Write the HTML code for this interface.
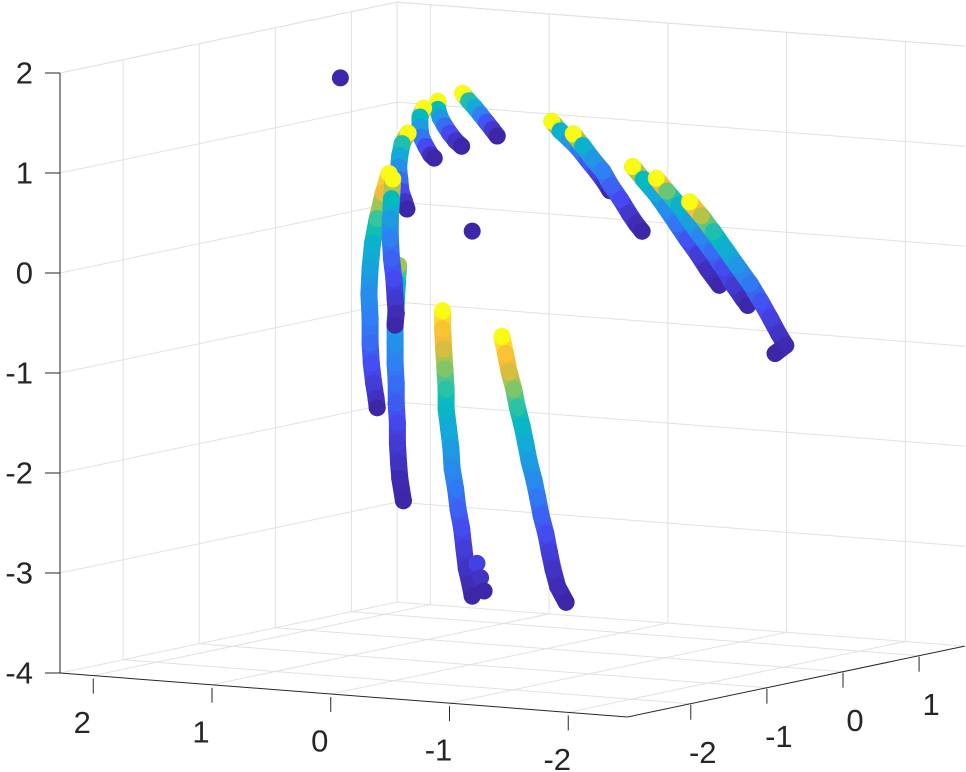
<!DOCTYPE html>
<html><head><meta charset="utf-8"><style>
html,body{margin:0;padding:0;background:#fff;}
svg{display:block;font-family:"Liberation Sans",Arial,sans-serif;}
</style></head><body>
<svg id="chart" width="966" height="772" viewBox="0 0 966 772" xmlns="http://www.w3.org/2000/svg">
<g id="grid"></g>
<g id="axes"></g>
<g id="points"></g>
</svg>
<script>
// axis ticks
const xTicks = [2, 1, 0, -1, -2];
const yTicks = [-2, -1, 0, 1];
const zTicks = [2, 1, 0, -1, -2, -3, -4];
const xTickLabels = ["2", "1", "0", "-1", "-2"];
const yTickLabels = ["-2", "-1", "0", "1"];
const zTickLabels = ["2", "1", "0", "-1", "-2", "-3", "-4"];
const xLim = [-2.5, 2.28];
const yLim = [-2.83, 1.6];
const zLim = [-4, 2];

// data tracks: x, z, colour value (y depth is shared)
const pointDepthY = -0.05;
const dotsX = [1.70, 0.59];
const dotsZ = [1.56, 0.13];
const dotsC = [0, 0];
const trackA_x = [0.67, 0.62, 0.57, 0.52, 0.47, 0.42, 0.38];
const trackA_z = [1.50, 1.43, 1.37, 1.30, 1.23, 1.16, 1.10];
const trackA_c = [1, 0.6, 0.45, 0.3, 0.18, 0.08, 0];
const trackB_x = [0.88, 0.88, 0.86, 0.82, 0.78, 0.73, 0.68];
const trackB_z = [1.40, 1.32, 1.24, 1.16, 1.09, 1.02, 0.97];
const trackB_c = [1, 0.55, 0.38, 0.25, 0.15, 0.06, 0];
const trackC_x = [1.00, 1.03, 1.03, 1.02, 0.98, 0.94, 0.91];
const trackC_z = [1.32, 1.23, 1.13, 1.03, 0.94, 0.86, 0.83];
const trackC_c = [1, 0.55, 0.4, 0.28, 0.15, 0.05, 0];
const trackD_x = [1.13, 1.18, 1.20, 1.21, 1.20, 1.19, 1.16, 1.14];
const trackD_z = [1.06, 0.95, 0.83, 0.71, 0.59, 0.47, 0.37, 0.30];
const trackD_c = [1, 0.6, 0.45, 0.35, 0.25, 0.15, 0.06, 0];
const trackE1_x = [1.29, 1.34, 1.39, 1.43, 1.45, 1.46, 1.45, 1.45, 1.44, 1.42, 1.40, 1.39];
const trackE1_z = [0.64, 0.44, 0.18, -0.07, -0.32, -0.58, -0.82, -1.07, -1.27, -1.47, -1.62, -1.71];
const trackE1_c = [1, 0.85, 0.65, 0.5, 0.42, 0.35, 0.3, 0.24, 0.17, 0.1, 0.05, 0];
const trackE2_x = [1.26, 1.27, 1.28, 1.28, 1.27, 1.25, 1.24, 1.23, 1.24];
const trackE2_z = [0.59, 0.39, 0.19, -0.01, -0.21, -0.41, -0.60, -0.75, -0.87];
const trackE2_c = [1, 0.55, 0.4, 0.3, 0.22, 0.15, 0.08, 0.03, 0];
const trackE3_x = [1.21, 1.22, 1.23, 1.24, 1.24, 1.24, 1.23, 1.23, 1.22, 1.22, 1.21, 1.20, 1.17];
const trackE3_z = [-0.27, -0.45, -0.65, -0.85, -1.05, -1.25, -1.45, -1.65, -1.85, -2.05, -2.25, -2.40, -2.62];
const trackE3_c = [0.75, 0.55, 0.48, 0.42, 0.36, 0.3, 0.25, 0.2, 0.14, 0.09, 0.05, 0.02, 0];
const trackF_x = [0.84, 0.84, 0.83, 0.82, 0.81, 0.81, 0.79, 0.77, 0.76, 0.73, 0.71, 0.68, 0.66, 0.64, 0.61, 0.59];
const trackF_z = [-0.69, -0.87, -1.07, -1.27, -1.47, -1.67, -1.86, -2.06, -2.26, -2.46, -2.66, -2.85, -3.05, -3.25, -3.40, -3.52];
const trackF_c = [1, 0.9, 0.82, 0.72, 0.62, 0.52, 0.46, 0.4, 0.34, 0.28, 0.22, 0.16, 0.1, 0.06, 0.03, 0];
const trackF2_x = [0.55, 0.52, 0.49];
const trackF2_z = [-3.19, -3.33, -3.46];
const trackF2_c = [0.12, 0.06, 0];
const trackG_x = [0.34, 0.31, 0.28, 0.24, 0.21, 0.17, 0.14, 0.11, 0.07, 0.04, 0.01, -0.03, -0.06, -0.09, -0.13, -0.20];
const trackG_z = [-0.90, -1.07, -1.25, -1.42, -1.60, -1.78, -1.95, -2.13, -2.31, -2.48, -2.66, -2.84, -3.02, -3.19, -3.36, -3.51];
const trackG_c = [1, 0.9, 0.82, 0.72, 0.62, 0.52, 0.46, 0.4, 0.34, 0.28, 0.22, 0.16, 0.1, 0.06, 0.03, 0];
const trackH1_x = [-0.08, -0.15, -0.23, -0.31, -0.38, -0.46, -0.52, -0.57];
const trackH1_z = [1.29, 1.20, 1.12, 1.03, 0.93, 0.82, 0.73, 0.64];
const trackH1_c = [1, 0.5, 0.38, 0.28, 0.2, 0.12, 0.05, 0];
const trackH2_x = [-0.26, -0.34, -0.42, -0.51, -0.58, -0.66, -0.73, -0.79, -0.84];
const trackH2_z = [1.18, 1.07, 0.95, 0.83, 0.69, 0.56, 0.43, 0.33, 0.26];
const trackH2_c = [1, 0.5, 0.38, 0.3, 0.22, 0.15, 0.08, 0.03, 0];
const trackI1_x = [-0.76, -0.85, -0.95, -1.04, -1.13, -1.22, -1.31, -1.39, -1.49];
const trackI1_z = [0.90, 0.78, 0.65, 0.51, 0.36, 0.21, 0.07, -0.07, -0.22];
const trackI1_c = [1, 0.55, 0.45, 0.35, 0.27, 0.18, 0.1, 0.04, 0];
const trackI2_x = [-0.96, -1.05, -1.15, -1.24, -1.33, -1.43, -1.52, -1.61, -1.69, -1.73];
const trackI2_z = [0.80, 0.68, 0.55, 0.40, 0.26, 0.11, -0.04, -0.21, -0.34, -0.40];
const trackI2_c = [1, 0.7, 0.5, 0.42, 0.33, 0.25, 0.16, 0.09, 0.04, 0];
const trackI3_x = [-1.24, -1.34, -1.44, -1.54, -1.64, -1.75, -1.84, -1.92, -1.99, -2.05, -1.96];
const trackI3_z = [0.59, 0.46, 0.31, 0.15, -0.01, -0.18, -0.35, -0.51, -0.66, -0.77, -0.86];
const trackI3_c = [1, 0.78, 0.6, 0.48, 0.38, 0.28, 0.18, 0.11, 0.06, 0.02, 0];

// projection
function P(x, y, z) {
  const u = xLim[1] - x, v = y - yLim[0], w = z - zLim[0];
  return [60 + u * 118.75 + v * 76.1, 673 + u * 9.2 - v * 16.0 - w * 100];
}
const NS = "http://www.w3.org/2000/svg";
function mk(tag, attrs, parent) {
  const el = document.createElementNS(NS, tag);
  for (const k in attrs) el.setAttribute(k, attrs[k]);
  parent.appendChild(el);
  return el;
}
function line(a, b, stroke, parent, name) {
  const el = mk("line", {x1: a[0], y1: a[1], x2: b[0], y2: b[1], stroke: stroke, "stroke-width": 1}, parent);
  
  
  return el;
}
const grid = document.getElementById("grid");
const axes = document.getElementById("axes");
const GC = "#e1e1e1";
const [x0, x1] = xLim, [y0, y1] = yLim, [z0, z1] = zLim;
zTicks.forEach(z => line(P(x1, y0, z), P(x1, y1, z), GC, grid, "grid-line-z"));
yTicks.forEach(y => line(P(x1, y, z0), P(x1, y, z1), GC, grid, "grid-line-y"));
zTicks.forEach(z => line(P(x1, y1, z), P(x0, y1, z), GC, grid, "grid-line-z"));
xTicks.forEach(x => line(P(x, y1, z0), P(x, y1, z1), GC, grid, "grid-line-x"));
xTicks.forEach(x => line(P(x, y0, z0), P(x, y1, z0), GC, grid, "floor-grid-x"));
yTicks.forEach(y => line(P(x1, y, z0), P(x0, y, z0), GC, grid, "floor-grid-y"));
line(P(x1, y1, z0), P(x1, y1, z1), GC, grid, "box-edge");
line(P(x1, y0, z1), P(x1, y1, z1), GC, grid, "box-edge");
line(P(x1, y1, z1), P(x0, y1, z1), GC, grid, "box-edge");

const AC = "#262626";
line(P(x1, y0, z0), P(x1, y0, z1), AC, axes, "z-axis-line");
line(P(x1, y0, z0), P(x0, y0, z0), AC, axes, "x-axis-line");
line(P(x0, y0, z0), P(x0, y1, z0), AC, axes, "y-axis-line");
function label(txt, x, y, anchor, name) {
  const t = mk("text", {x: x, y: y, "text-anchor": anchor, "dominant-baseline": "central", "font-size": 31, fill: AC}, axes);
  t.textContent = txt;
  
  
}
zTicks.forEach((z, i) => {
  const p = P(x1, y0, z);
  line([p[0] - 15, p[1]], p, AC, axes, "z-tick");
  label(zTickLabels[i], p[0] - 27, p[1], "end", "z-tick-label");
});
xTicks.forEach((x, i) => {
  const p = P(x, y0, z0);
  line([p[0], p[1] + 3], [p[0], p[1] + 18], AC, axes, "x-tick");
  label(xTickLabels[i], p[0] - 11, p[1] + 47, "middle", "x-tick-label");
});
yTicks.forEach((y, i) => {
  const p = P(x0, y, z0);
  line([p[0], p[1] + 1], [p[0], p[1] + 16], AC, axes, "y-tick");
  label(yTickLabels[i], p[0] + 12, p[1] + 49, "middle", "y-tick-label");
});

const cmStops = [[0,[62,38,168]],[0.15,[70,72,240]],[0.3,[46,128,244]],[0.45,[20,169,216]],[0.55,[3,187,190]],[0.65,[57,197,155]],[0.75,[156,199,80]],[0.85,[241,186,58]],[0.92,[253,198,49]],[1,[249,251,21]]];
function cmap(c) {
  for (let i = 1; i < cmStops.length; i++) {
    if (c <= cmStops[i][0]) {
      const a = cmStops[i-1], b = cmStops[i];
      const t = (c - a[0]) / (b[0] - a[0]);
      const r = a[1].map((v, k) => Math.round(v + (b[1][k] - v) * t));
      return `rgb(${r[0]},${r[1]},${r[2]})`;
    }
  }
  return "rgb(249,251,21)";
}
const pts = document.getElementById("points");
function drawTrack(xs, zs, cs, name, connect) {
  const g = mk("g", {}, pts);
  
  
  const ps = xs.map((x, i) => P(x, pointDepthY, zs[i]));
  if (connect) {
    for (let i = 0; i < ps.length - 1; i++) {
      const s = mk("line", {x1: ps[i][0].toFixed(1), y1: ps[i][1].toFixed(1), x2: ps[i+1][0].toFixed(1), y2: ps[i+1][1].toFixed(1),
        stroke: cmap((cs[i] + cs[i+1]) / 2), "stroke-width": 17, "stroke-linecap": "round"}, g);
      
      
    }
  }
  ps.forEach((p, i) => {
    const c = mk("circle", {cx: p[0].toFixed(1), cy: p[1].toFixed(1), r: 8.5, fill: cmap(cs[i])}, g);
    
    
  });
}
drawTrack(dotsX, dotsZ, dotsC, "isolated-points", false);
drawTrack(trackA_x, trackA_z, trackA_c, "track-a", true);
drawTrack(trackB_x, trackB_z, trackB_c, "track-b", true);
drawTrack(trackC_x, trackC_z, trackC_c, "track-c", true);
drawTrack(trackD_x, trackD_z, trackD_c, "track-d", true);
drawTrack(trackE3_x, trackE3_z, trackE3_c, "track-e3", true);
drawTrack(trackE1_x, trackE1_z, trackE1_c, "track-e1", true);
drawTrack(trackE2_x, trackE2_z, trackE2_c, "track-e2", true);
drawTrack(trackF_x, trackF_z, trackF_c, "track-f", true);
drawTrack(trackF2_x, trackF2_z, trackF2_c, "track-f2", false);
drawTrack(trackG_x, trackG_z, trackG_c, "track-g", true);
drawTrack(trackH1_x, trackH1_z, trackH1_c, "track-h1", true);
drawTrack(trackH2_x, trackH2_z, trackH2_c, "track-h2", true);
drawTrack(trackI1_x, trackI1_z, trackI1_c, "track-i1", true);
drawTrack(trackI2_x, trackI2_z, trackI2_c, "track-i2", true);
drawTrack(trackI3_x, trackI3_z, trackI3_c, "track-i3", true);
</script>
</body></html>
